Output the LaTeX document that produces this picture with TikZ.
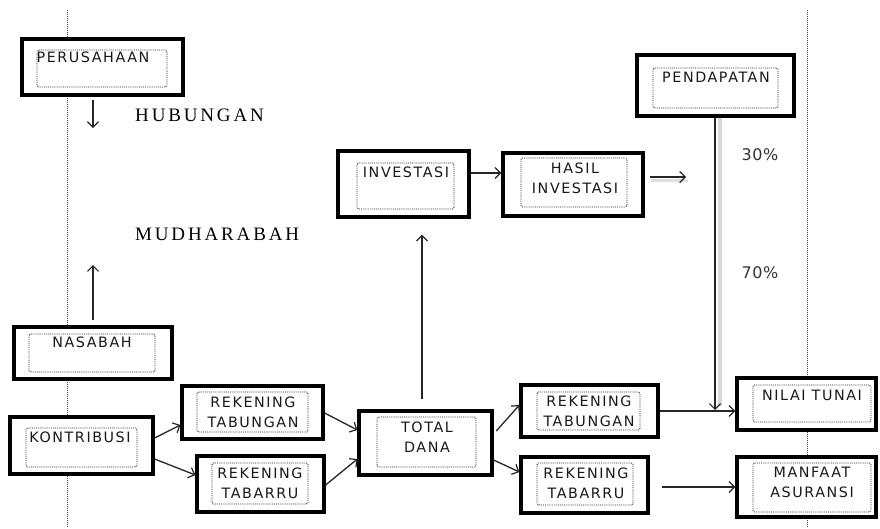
\documentclass[tikz,border=0pt]{standalone}
\usepackage{fontspec}
\usetikzlibrary{arrows.meta}
\newfontfamily\boxfont[LetterSpace=11]{DejaVu Sans}
\newfontfamily\pctfont[LetterSpace=4]{DejaVu Sans}
\newfontfamily\lblserif[LetterSpace=15]{Liberation Serif}
\definecolor{lin}{HTML}{262626}
\tikzset{
  outerbox/.style={draw=black, line width=3.2pt, fill=white, inner sep=0pt},
  innerbox/.style={draw=black!85, densely dotted, line width=0.9pt, rounded corners=1.5pt},
  boxtext/.style={inner sep=0pt, align=center, font=\boxfont\fontsize{14.3}{20}\selectfont, text=black!90},
  sidetext/.style={inner sep=0pt, anchor=west, font=\lblserif\fontsize{19}{20}\selectfont, text=black},
  pcttext/.style={inner sep=0pt, font=\pctfont\fontsize{16}{18}\selectfont, text=black!80},
  guide/.style={draw=black!75, densely dotted, line width=1pt},
  arr/.style={draw=lin, line width=1.3pt, -{Straight Barb[length=5.5pt,width=11pt,line width=1.2pt]}},
}
\newcommand\dbox[9]{%
  \node[outerbox, minimum width={#4-#2}, minimum height={#5-#3}] (#1) at ({(#2+#4)/2},{(#3+#5)/2}) {};
  \draw[innerbox] (#6,#7) rectangle (#8,#9);}
\begin{document}
\begin{tikzpicture}[x=1pt,y=-1pt]
\useasboundingbox[fill=white] (0,0) rectangle (880,528);
% guide lines
\coordinate (gl1) at (67,10); \coordinate (gl2) at (67,528);
\coordinate (gr1) at (807,10); \coordinate (gr2) at (807,528);
\draw[guide] (gl1) -- (gl2);
\draw[guide] (gr1) -- (gr2);
% boxes
\dbox{per}{22}{39}{183}{95}{37}{50}{167}{87}
\dbox{nas}{14}{327}{172}{379}{29}{334}{155}{372}
\dbox{kon}{10}{417}{153}{474}{26}{428}{137}{467}
\dbox{rtl}{182}{386}{323}{439}{197}{392}{308}{432}
\dbox{rbl}{197}{456}{324}{512}{212}{463}{308}{504}
\dbox{tot}{359}{411}{492}{475}{377}{417}{476}{467}
\dbox{rtr}{521}{385}{658}{437}{537}{392}{640}{430}
\dbox{rbr}{521}{457}{648}{513}{537}{463}{633}{505}
\dbox{nil}{737}{378}{876}{430}{753}{385}{871}{422}
\dbox{man}{737}{457}{876}{517}{753}{463}{871}{512}
\dbox{pen}{637}{55}{794}{116}{653}{68}{778}{108}
\dbox{inv}{338}{151}{469}{217}{357}{163}{454}{209}
\dbox{has}{503}{153}{643}{216}{521}{158}{627}{207}
% texts
\node[boxtext] (tper) at (93,57) {PERUSAHAAN};
\node[boxtext] (tnas) at (92,342) {NASABAH};
\node[boxtext] (tkon) at (80,437) {KONTRIBUSI};
\node[boxtext] (trtl) at (253,412) {REKENING\\TABUNGAN};
\node[boxtext] (trbl) at (260,483) {REKENING\\TABARRU};
\node[boxtext] (ttot) at (427,437) {TOTAL\\DANA};
\node[boxtext] (trtr) at (589,411.5) {REKENING\\TABUNGAN};
\node[boxtext] (trbr) at (586,483) {REKENING\\TABARRU};
\node[boxtext] (tnil) at (812,395) {NILAI TUNAI};
\node[boxtext] (tman) at (812,482.5) {MANFAAT\\ASURANSI};
\node[boxtext] (tpen) at (716,77) {PENDAPATAN};
\node[boxtext] (tinv) at (406,172) {INVESTASI};
\node[boxtext] (thas) at (575,178) {HASIL\\INVESTASI};
\node[sidetext] (hub) at (135,115) {HUBUNGAN};
\node[sidetext] (mud) at (135,234) {MUDHARABAH};
\node[pcttext] (p30) at (760,155) {30\%};
\node[pcttext] (p70) at (760,273) {70\%};
% connectors
\coordinate (dn) at (93,128);
\coordinate (up) at (93,265);
\coordinate (hf) at (686,177);
\coordinate (pn) at (715,410);
\draw[arr, shorten <=3pt] (per.south -| dn) -- (dn);
\draw[arr, shorten <=5pt] (nas.north -| up) -- (up);
\draw[arr] (kon.east |- 0,438) -- (rtl.west |- 0,425);
\draw[arr] (kon.east |- 0,459) -- (rbl.west |- 0,475);
\draw[arr] (rtl.east |- 0,413) -- (tot.west |- 0,430);
\draw[arr] (rbl.east |- 0,485) -- (tot.west |- 0,459);
\draw[arr, shorten <=10pt, shorten >=16pt] (tot.north -| 422,0) -- (inv.south -| 422,0);
\draw[arr] (inv.east |- 0,173) -- (has.west |- 0,173);
\draw[black!12, line width=3pt] ([xshift=6pt]has.east |- 0,180) -- ([xshift=2pt]hf |- 0,180);
\draw[arr, shorten <=5pt] (has.east |- hf) -- (hf);
\draw[arr, shorten <=4pt] (tot.east |- 0,434) -- (rtr.west |- 0,405);
\draw[arr] (tot.east |- 0,460) -- (rbr.west |- 0,472);
\draw[arr] (rtr.east |- 0,411) -- (nil.west |- 0,411);
\draw[arr, shorten <=12pt] (rbr.east |- 0,487) -- (man.west |- 0,487);
\draw[black!15, line width=4pt] ([xshift=5pt]pen.south -| pn) -- ([xshift=5pt,yshift=4pt]pn);
\draw[arr] (pen.south -| pn) -- (pn);
\end{tikzpicture}
\end{document}
